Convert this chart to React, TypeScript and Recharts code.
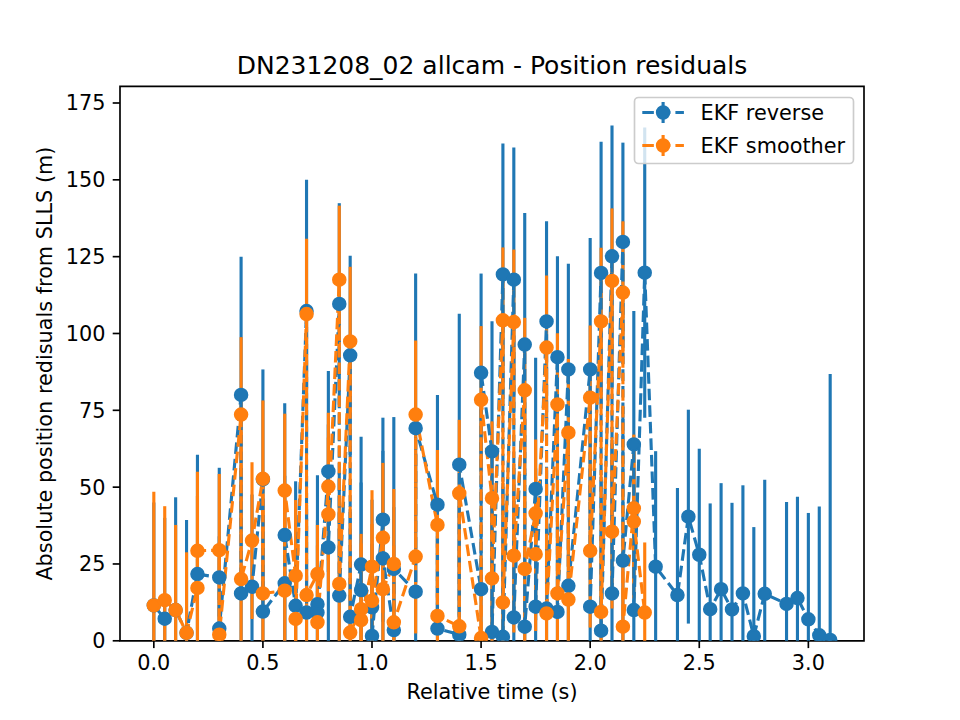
import React from 'react';
import { ComposedChart, Line, XAxis, YAxis, ErrorBar, ReferenceArea, Legend } from 'recharts';

// ---- EKF reverse (blue) ----
const reverseTime = [
  0.0, 0.05, 0.1, 0.15, 0.2, 0.3, 0.3, 0.4, 0.4, 0.45, 0.5, 0.5, 0.6, 0.6, 0.65,
  0.7, 0.7, 0.75, 0.75, 0.8, 0.8, 0.85, 0.85, 0.9, 0.9, 0.95, 0.95, 1.0, 1.0,
  1.05, 1.05, 1.1, 1.1, 1.2, 1.2, 1.3, 1.3, 1.4, 1.4, 1.5, 1.5, 1.55, 1.55,
  1.6, 1.6, 1.65, 1.65, 1.7, 1.7, 1.75, 1.75, 1.8, 1.8, 1.85, 1.85, 1.9, 1.9,
  2.0, 2.0, 2.05, 2.05, 2.1, 2.1, 2.15, 2.15, 2.2, 2.2, 2.25,
  2.3, 2.4, 2.45, 2.5, 2.55, 2.6, 2.65, 2.7, 2.75, 2.8, 2.9, 2.95, 3.0, 3.05, 3.1,
];
const reverseValue = [
  11.5, 7.2, 10.0, 2.6, 21.7, 20.6, 4.0, 80.0, 15.4, 17.6, 52.5, 9.5, 18.7, 34.4, 11.4,
  107.3, 9.2, 11.9, 9.2, 55.1, 30.4, 109.6, 14.7, 92.9, 7.8, 24.8, 16.5, 10.9, 1.6,
  39.4, 26.8, 3.5, 23.4, 16.0, 69.2, 44.3, 4.0, 2.0, 57.3, 16.8, 87.2, 61.6, 2.9,
  119.2, 1.3, 117.5, 7.6, 96.4, 4.6, 49.4, 11.1, 103.9, 10.5, 92.3, 9.4, 88.3, 17.9,
  88.3, 11.1, 119.7, 3.3, 125.1, 15.4, 129.8, 26.1, 63.9, 10.0, 119.8,
  24.1, 14.9, 40.4, 28.0, 10.3, 16.8, 10.2, 15.4, 1.5, 15.3, 12.0, 13.9, 7.0, 1.8, 0.3,
];
const reverseErr = [
  33.5, 32.8, 36.7, 36.7, 38.8, 35.7, 30, 45.0, 40, 30, 35.8, 30, 35, 42.9, 40.5,
  42.7, 35, 42.0, 30, 32.7, 40, 32.8, 40, 32.4, 35, 41.6, 35, 35, 30,
  33.2, 35, 40, 49.4, 45, 50.3, 35.7, 40, 45, 49.1, 60, 32.3, 42.4, 45,
  42.6, 50, 43.0, 50, 42.8, 50, 42.7, 45, 32.6, 45, 32.8, 45, 34.4, 45,
  42.8, 45, 42.7, 50, 42.6, 50, 32.3, 50, 43.4, 45, 47.2,
  37.6, 34.8, 34.8, 34.5, 34.4, 34.5, 34.7, 35.2, 35.5, 37.1, 33.2, 33.0, 34.6, 41.9, 86.5,
];

// ---- EKF smoother (orange) ----
const smootherTime = [
  0.0, 0.05, 0.1, 0.15, 0.2, 0.2, 0.3, 0.3, 0.4, 0.4, 0.45, 0.5, 0.5, 0.6, 0.6,
  0.65, 0.65, 0.7, 0.7, 0.75, 0.75, 0.8, 0.8, 0.85, 0.85, 0.9, 0.9, 0.95, 0.95,
  1.0, 1.0, 1.05, 1.05, 1.1, 1.1, 1.2, 1.2, 1.3, 1.3, 1.4, 1.4, 1.5, 1.5, 1.55, 1.55,
  1.6, 1.6, 1.65, 1.65, 1.7, 1.7, 1.75, 1.75, 1.8, 1.8, 1.85, 1.85, 1.9, 1.9,
  2.0, 2.0, 2.05, 2.05, 2.1, 2.1, 2.15, 2.15, 2.2, 2.2, 2.25,
];
const smootherValue = [
  11.5, 13.2, 10.0, 2.6, 17.2, 29.3, 29.5, 2.0, 73.6, 20.1, 32.6, 52.7, 15.4, 16.3, 48.9,
  21.2, 7.1, 106.3, 14.9, 21.7, 6.0, 50.2, 41.1, 117.5, 18.5, 97.4, 2.7, 10.3, 6.7,
  24.1, 13.0, 33.5, 16.8, 25.0, 6.0, 27.4, 73.6, 37.7, 8.1, 4.7, 48.0, 0.9, 78.4, 46.4, 20.3,
  104.3, 12.5, 103.7, 27.7, 81.5, 23.4, 41.5, 28.2, 95.4, 8.9, 76.9, 15.4, 67.7, 13.4,
  79.1, 29.3, 103.9, 9.4, 117.1, 35.5, 113.3, 4.6, 43.1, 38.8, 9.2,
];
const smootherErr = [
  37.0, 30.6, 27.7, 26.2, 30, 25.7, 24.8, 30, 25.2, 30, 25.5, 25.5, 30, 30, 25.0,
  24.6, 30, 24.5, 25, 16.0, 25, 24.0, 25, 24.1, 25, 24.3, 25, 24.5, 25,
  24.9, 25, 24.4, 25, 24.4, 25, 25, 24.1, 24.4, 25, 25, 23.9, 25, 24.0, 25, 25,
  23.7, 25, 23.6, 25, 23.6, 25, 24, 25, 23.5, 25, 23.2, 25, 24, 25,
  23.5, 25, 24, 25, 23.6, 25, 23.2, 25, 24, 25, 22.8,
];

const seriesNames = ['EKF reverse', 'EKF smoother'];
const seriesColors = ['#1f77b4', '#ff7f0e'];
const xTicks = [0, 0.5, 1.0, 1.5, 2.0, 2.5, 3.0];
const yTicks = [0, 25, 50, 75, 100, 125, 150, 175];
const titleText = 'DN231208_02 allcam - Position residuals';
const xLabelText = 'Relative time (s)';
const yLabelText = 'Absolute position redisuals from SLLS (m)';

const build = (ts: number[], vs: number[], es: number[]) =>
  ts.map((t, i) => ({ t, v: vs[i], e: [Math.min(vs[i], es[i]), es[i]] }));

const reverseData = build(reverseTime, reverseValue, reverseErr);
const smootherData = build(smootherTime, smootherValue, smootherErr);

const FONT = 'DejaVu Sans, Bitstream Vera Sans, sans-serif';
const LW = 3.125; // 1.5pt @150dpi
const DASH = '11.56 5';
const SPINE = 1.67;

const X_DOMAIN = [-0.155, 3.255];
const Y_DOMAIN = [0, 180.4];

const LegendBox = () => (
  <svg width={221} height={68} style={{ display: 'block', overflow: 'visible' }}>
    <rect x={0.5} y={0.5} width={219} height={66} rx={4} ry={4}
      fill="rgba(255,255,255,0.8)" stroke="#cccccc" strokeWidth={1.67} />
    {seriesNames.map((name, i) => {
      const cy = 15.5 + i * 33;
      const c = seriesColors[i];
      return (
        <g key={name}>
          <line x1={8.3} x2={49.9} y1={cy} y2={cy} stroke={c} strokeWidth={LW} strokeDasharray={DASH} />
          <line x1={29.1} x2={29.1} y1={cy - 10.5} y2={cy + 10.5} stroke={c} strokeWidth={LW} />
          <circle cx={29.1} cy={cy} r={6.25} fill={c} stroke={c} strokeWidth={2} />
          <text x={66.5} y={cy + 7.6} fontSize={20.8} fontFamily={FONT} fill="#000">{name}</text>
        </g>
      );
    })}
  </svg>
);

export default function App() {
  return (
    <div style={{ position: 'absolute', left: 0, top: 0, width: 960, height: 720, background: '#fff' }}>
      <ComposedChart
        width={960}
        height={720}
        margin={{ top: 86.4, right: 96, bottom: 39.2, left: 60 }}
      >
        <XAxis
          type="number"
          dataKey="t"
          domain={X_DOMAIN}
          allowDataOverflow
          ticks={xTicks}
          tickFormatter={(v: number) => v.toFixed(1)}
          height={40}
          axisLine={false}
          tickSize={7.3}
          tickMargin={7.3}
          tickLine={{ stroke: '#000', strokeWidth: SPINE }}
          tick={{ fontSize: 20.8, fill: '#000', fontFamily: FONT }}
          interval={0}
        />
        <YAxis
          type="number"
          domain={Y_DOMAIN}
          allowDataOverflow
          ticks={yTicks}
          width={60}
          axisLine={false}
          tickSize={7.3}
          tickMargin={7.3}
          tickLine={{ stroke: '#000', strokeWidth: SPINE }}
          tick={{ fontSize: 20.8, fill: '#000', fontFamily: FONT }}
          interval={0}
        />
        {/* error bars first (below all lines/markers) */}
        <Line data={reverseData} dataKey="v" stroke="none" dot={false} activeDot={false}
          isAnimationActive={false} legendType="none">
          <ErrorBar dataKey="e" direction="y" width={0} stroke={seriesColors[0]} strokeWidth={LW} isAnimationActive={false} />
        </Line>
        <Line data={smootherData} dataKey="v" stroke="none" dot={false} activeDot={false}
          isAnimationActive={false} legendType="none">
          <ErrorBar dataKey="e" direction="y" width={0} stroke={seriesColors[1]} strokeWidth={LW} isAnimationActive={false} />
        </Line>
        <Line data={reverseData} dataKey="v" name={seriesNames[0]} stroke={seriesColors[0]}
          strokeWidth={LW} strokeDasharray={DASH} type="linear"
          dot={{ r: 6.25, fill: seriesColors[0], stroke: seriesColors[0], strokeWidth: 2, strokeDasharray: '' }}
          activeDot={false} isAnimationActive={false} />
        <Line data={smootherData} dataKey="v" name={seriesNames[1]} stroke={seriesColors[1]}
          strokeWidth={LW} strokeDasharray={DASH} type="linear"
          dot={{ r: 6.25, fill: seriesColors[1], stroke: seriesColors[1], strokeWidth: 2, strokeDasharray: '' }}
          activeDot={false} isAnimationActive={false} />
        <ReferenceArea x1={X_DOMAIN[0]} x2={X_DOMAIN[1]} y1={Y_DOMAIN[0]} y2={Y_DOMAIN[1]}
          fill="none" fillOpacity={0} stroke="#000" strokeWidth={SPINE} ifOverflow="visible" />
        <Legend
          layout="horizontal"
          verticalAlign="middle"
          align="center"
          content={() => <LegendBox />}
          wrapperStyle={{ position: 'absolute', left: 634, top: 97, width: 221, height: 68, right: 'auto', bottom: 'auto', margin: 0 }}
        />
      </ComposedChart>
      <svg width={960} height={720} style={{ position: 'absolute', left: 0, top: 0, pointerEvents: 'none' }}>
        <text x={492} y={74} textAnchor="middle" fontSize={25} fontFamily={FONT} fill="#000">{titleText}</text>
        <text x={492} y={699} textAnchor="middle" fontSize={20.8} fontFamily={FONT} fill="#000">{xLabelText}</text>
        <text x={52.5} y={363.6} textAnchor="middle" fontSize={20.8} fontFamily={FONT} fill="#000"
          transform="rotate(-90 52.5 363.6)">{yLabelText}</text>
      </svg>
    </div>
  );
}
